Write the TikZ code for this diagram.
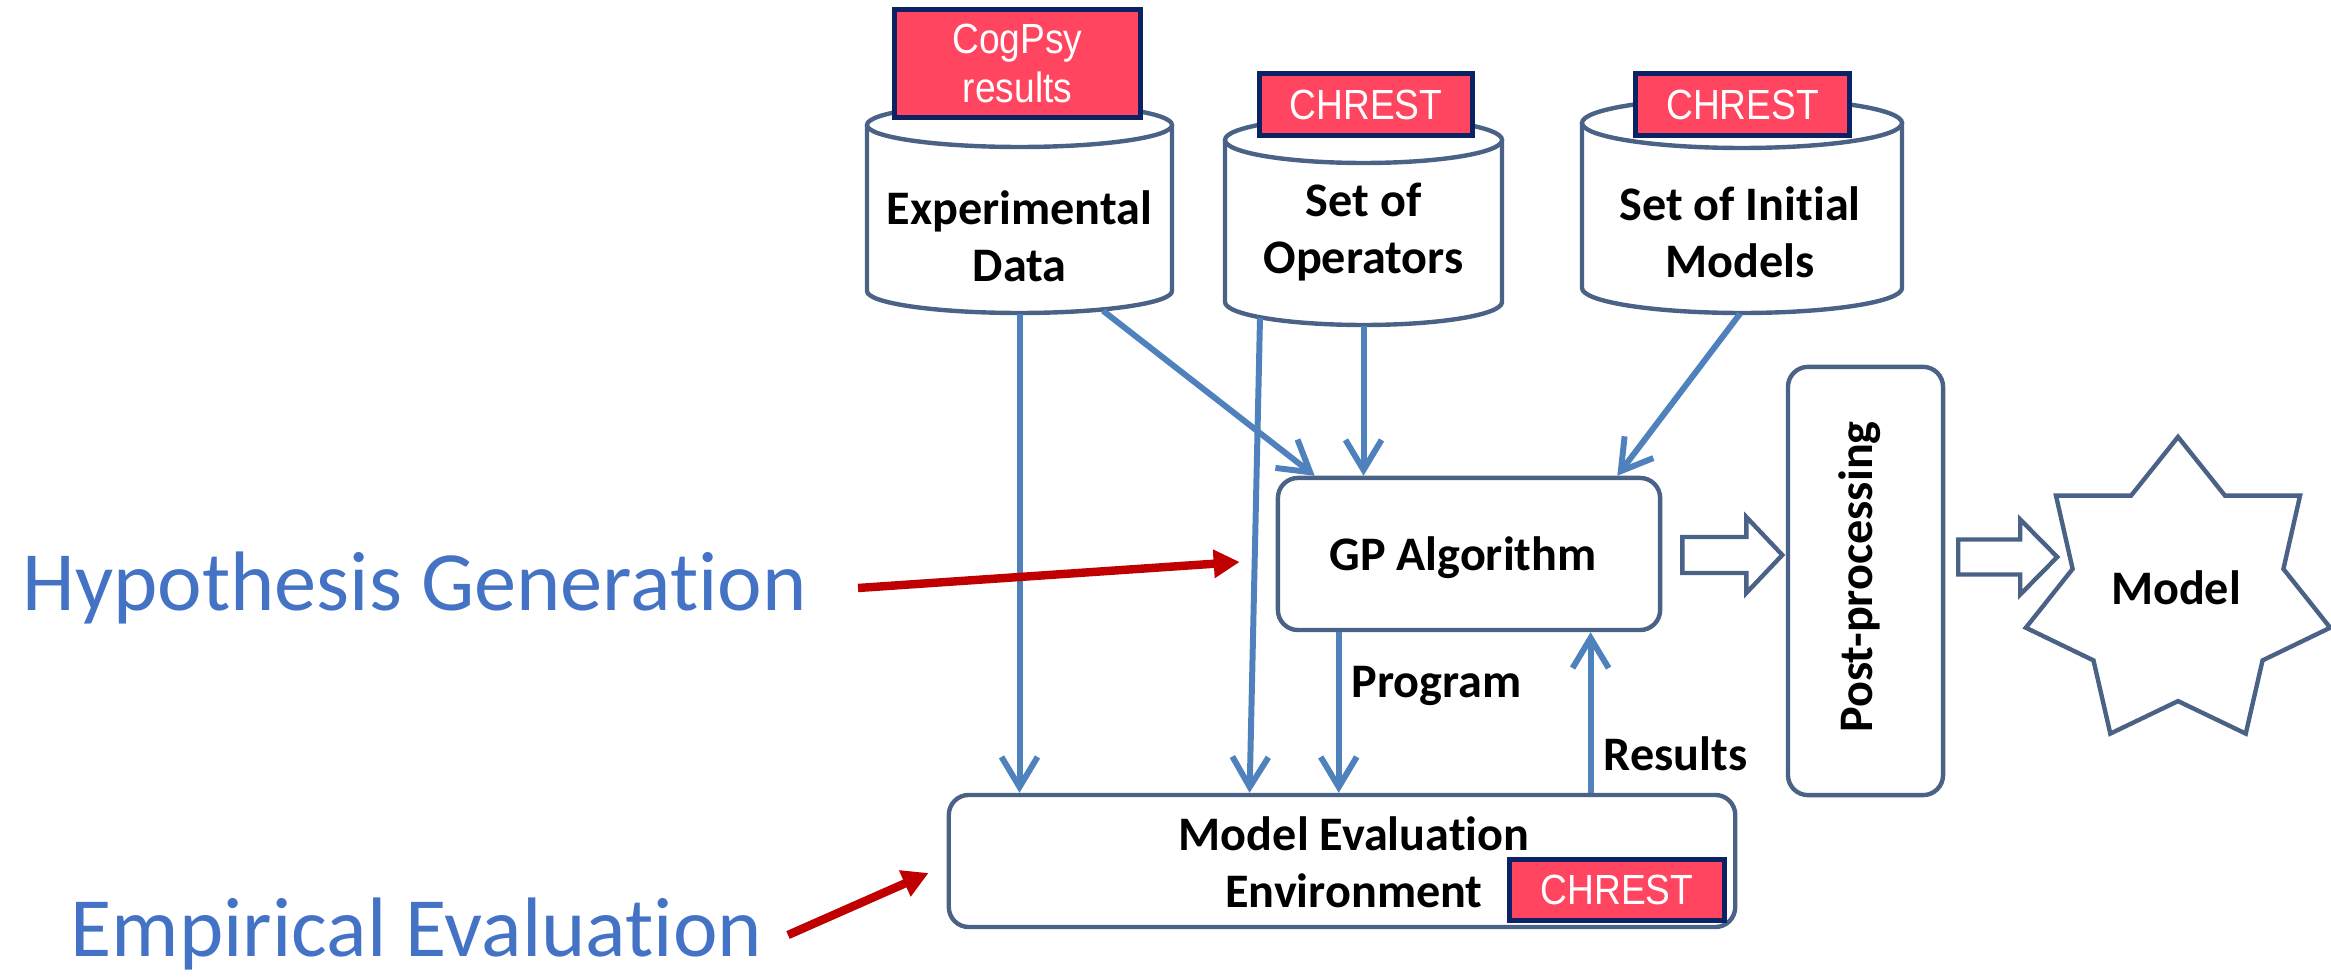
\documentclass[tikz,border=0pt]{standalone}
\usepackage{fontspec}
\setmainfont{Carlito}[Ligatures=NoCommon]
\newfontfamily\tagfont{Liberation Sans}[FakeStretch=0.88]
\usetikzlibrary{arrows.meta,shapes.geometric,calc}

\definecolor{edge}{HTML}{4A6286}
\definecolor{flow}{HTML}{4F81BD}
\definecolor{tagred}{HTML}{FF4560}
\definecolor{tagnavy}{HTML}{0B2265}
\definecolor{phase}{HTML}{4472C4}
\definecolor{pointer}{HTML}{C00000}

\begin{document}
\begin{tikzpicture}[x=0.01cm,y=0.01cm,
  box/.style={draw=edge, line width=1.25pt, rounded corners=0.2cm, fill=white, inner sep=0},
  drum/.style={draw=edge, line width=1.25pt, fill=white},
  lbl/.style={font=\fontsize{13.7}{16.2}\selectfont\bfseries, align=center, text=black, inner sep=0},
  tag/.style={draw=tagnavy, line width=1.5pt, fill=tagred, text=white,
    font=\tagfont\fontsize{12}{14.2}\selectfont, align=center, inner sep=0},
  flowline/.style={draw=flow, line width=1.7pt, -{Straight Barb[length=0.3cm,width=0.36cm]}},
  pointer/.style={draw=pointer, line width=2.4pt, -{Triangle[length=0.26cm,width=0.27cm]}},
  phase/.style={font=\fontsize{24}{29}\selectfont, text=phase, inner sep=0},
  hollow/.style={draw=edge, line width=1.25pt, fill=white, line join=miter},
]
\useasboundingbox (0,0) rectangle (2331,-977);

% ---------- data stores (drums) ----------
\node[inner sep=0, minimum width=3.05cm, minimum height=2.10cm] (expdrum) at (1019.5,-208) {};
\draw[drum] (867,-125) -- (867,-291) arc[start angle=180, end angle=360, x radius=152.5, y radius=22] -- (1172,-125);
\draw[drum] (1019.5,-125) ellipse [x radius=152.5, y radius=22];
\node[lbl] (exp) at (1019.5,-236) {Experimental\\Data};

\node[inner sep=0, minimum width=2.77cm, minimum height=2.08cm] (opsdrum) at (1363.5,-221) {};
\draw[drum] (1225,-140) -- (1225,-302) arc[start angle=180, end angle=360, x radius=138.5, y radius=23] -- (1502,-140);
\draw[drum] (1363.5,-140) ellipse [x radius=138.5, y radius=23];
\node[lbl] (ops) at (1363.5,-232) {Set of\\Operators};

\node[inner sep=0, minimum width=3.20cm, minimum height=2.15cm] (initdrum) at (1742,-205.5) {};
\draw[drum] (1582,-123) -- (1582,-288) arc[start angle=180, end angle=360, x radius=160, y radius=25] -- (1902,-123);
\draw[drum] (1742,-123) ellipse [x radius=160, y radius=25];
\node[lbl] (init) at (1740,-232) {Set of Initial\\Models};

% ---------- process boxes ----------
\node[box, minimum width=3.82cm, minimum height=1.52cm] (gp) at (1469,-554) {};
\node[lbl] (gptext) at (1463,-558) {GP Algorithm};

\node[box, minimum width=1.55cm, minimum height=4.28cm] (pp) at (1865.5,-581) {};
\node[lbl, rotate=90] (pptext) at (1860,-577) {Post-processing};

\node[box, minimum width=7.86cm, minimum height=1.32cm] (mee) at (1342,-861) {};
\node[lbl] (meetext) at (1354,-862) {Model Evaluation\\Environment};

\node[star, star points=7, star point ratio=1.444, minimum size=3.12cm,
      draw=edge, line width=1.25pt, fill=white, inner sep=0] (model) at (2178,-593) {};
\node[lbl] (modeltext) at (2176,-588) {Model};

% ---------- block arrows ----------
\coordinate (h1) at ($(gp.east)+(20,-1)$);
\draw[hollow] ($(h1)+(0,18)$) -- ++(64,0) -- ++(0,20) -- ++(36,-38) -- ++(-36,-38) -- ++(0,20) -- ++(-64,0) -- cycle;
\coordinate (h2) at ($(pp.east)+(13,24)$);
\draw[hollow] ($(h2)+(0,17.5)$) -- ++(62,0) -- ++(0,20) -- ++(37,-37.5) -- ++(-37,-37.5) -- ++(0,20) -- ++(-62,0) -- cycle;

% ---------- data flow ----------
\draw[flowline] (expdrum.south) -- (expdrum.south |- mee.north);
\draw[flowline] ($(expdrum.south)+(83.5,3)$) -- ($(gp.north west)+(39,0)$);
\draw[flowline] ($(opsdrum.south)+(-103.5,8)$) -- ($(mee.north west)+(303,0)$);
\draw[flowline] (opsdrum.south) -- (opsdrum.south |- gp.north);
\draw[flowline] ($(initdrum.south)+(-2,0)$) -- ($(gp.north east)+(-45,0)$);
\coordinate (progtop) at ($(gp.south west)+(63,0)$);
\draw[flowline] (progtop) -- (progtop |- mee.north);
\coordinate (resbot) at ($(mee.north west)+(644,0)$);
\draw[flowline] (resbot) -- (resbot |- gp.south);
\node[lbl, anchor=west] (prog) at (1351,-686) {Program};
\node[lbl, anchor=west] (res) at (1603,-754) {Results};

% ---------- tool tags ----------
\node[tag, minimum width=2.46cm, minimum height=1.08cm] (cogtag) at (1017.5,-63.5) {CogPsy\\results};
\node[tag, minimum width=2.13cm, minimum height=0.62cm] (opstag) at (1366,-104.5) {CHREST};
\node[tag, minimum width=2.14cm, minimum height=0.62cm] (inittag) at (1742.5,-104.5) {CHREST};
\node[tag, minimum width=2.15cm, minimum height=0.61cm] (meetag) at (1617,-890) {CHREST};

% ---------- phase captions ----------
\node[phase, anchor=base west] (hyp) at (22,-611) {Hypothesis Generation};
\coordinate (hyptail) at (858,-588);
\draw[pointer] (hyptail) -- ($(gp.west)+(-36,-8)$);
\node[phase, anchor=base west] (emp) at (70,-956) {Empirical Evaluation};
\coordinate (emptail) at (788,-935);
\draw[pointer] (emptail) -- ($(mee.west)+(-18,-12)$);
\end{tikzpicture}
\end{document}
